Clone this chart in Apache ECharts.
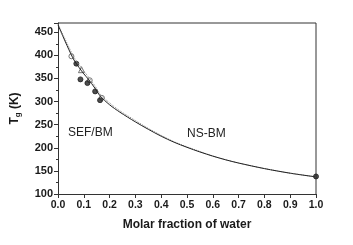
<!DOCTYPE html>
<html>
<head>
<meta charset="utf-8">
<script src="https://cdn.jsdelivr.net/npm/echarts@6/dist/echarts.min.js"></script>
<style>
  html, body { margin: 0; padding: 0; background: #fff; }
  #chart { width: 353px; height: 245px; }
</style>
</head>
<body>
<div id="chart"></div>
<script>
// values
const solidCurve = [
  [0, 466], [0.02, 440], [0.05, 403], [0.065, 387], [0.1, 360], [0.117, 349], [0.143, 329],
  [0.162, 313], [0.2, 293], [0.24, 277], [0.3, 256], [0.35, 240], [0.4, 225],
  [0.45, 212], [0.5, 201], [0.55, 191], [0.6, 182], [0.65, 174], [0.7, 167],
  [0.8, 155], [0.9, 145], [1.0, 137]
];
const dottedCurve = [
  [0, 468], [0.02, 444], [0.05, 409], [0.065, 393], [0.1, 366], [0.117, 354], [0.143, 334],
  [0.162, 317], [0.2, 297], [0.24, 280], [0.3, 259], [0.35, 242], [0.4, 227],
  [0.45, 213], [0.5, 202], [0.55, 192], [0.6, 182], [0.65, 174], [0.7, 167],
  [0.8, 155], [0.9, 145], [1.0, 137]
];
const filledPoints = [[0.071, 382], [0.087, 348], [0.114, 340], [0.144, 322], [0.163, 303], [1.0, 138]];
const openPoints = [[0.052, 398], [0.123, 346], [0.17, 308]];
const openTriangles = [[0.091, 369]];

const chart = echarts.init(document.getElementById('chart'));
const font = 'Liberation Sans, Arial, sans-serif';
chart.setOption({
  animation: false,
  backgroundColor: '#fff',
  grid: { left: 58, right: 37, top: 23, bottom: 51 },
  xAxis: {
    type: 'value', min: 0, max: 1, interval: 0.1,
    name: 'Molar fraction of water', nameLocation: 'middle', nameGap: 25,
    nameTextStyle: { fontFamily: font, fontWeight: 'bold', fontSize: 12, color: '#1a1a1a' },
    axisLine: { show: true, lineStyle: { color: '#333', width: 1 } },
    axisTick: { show: true, length: 4, lineStyle: { color: '#333' } },
    axisLabel: { fontFamily: font, fontWeight: 'bold', fontSize: 10.5, color: '#1a1a1a', margin: 6,
      formatter: v => v.toFixed(1) },
    splitLine: { show: false }
  },
  yAxis: {
    type: 'value', min: 100, max: 470, interval: 50,
    name: '{t|T}{s|g}{t| (K)}', nameLocation: 'middle', nameGap: 36, nameRotate: 90,
    nameTextStyle: { rich: {
      t: { fontFamily: font, fontWeight: 'bold', fontSize: 12, color: '#1a1a1a' },
      s: { fontFamily: font, fontWeight: 'bold', fontSize: 8, color: '#1a1a1a', verticalAlign: 'bottom', padding: [6, 0, 0, 0] }
    } },
    axisLine: { show: true, lineStyle: { color: '#333', width: 1 } },
    axisTick: { show: true, length: 4, lineStyle: { color: '#333' } },
    minorTick: { show: true, splitNumber: 2, length: 2, lineStyle: { color: '#333' } },
    axisLabel: { fontFamily: font, fontWeight: 'bold', fontSize: 11, color: '#1a1a1a', margin: 5,
      showMaxLabel: false },
    splitLine: { show: false }
  },
  graphic: [
    { type: 'line', shape: { x1: 58, y1: 23, x2: 316, y2: 23 }, style: { stroke: '#333', lineWidth: 1 } },
    { type: 'line', shape: { x1: 316, y1: 23, x2: 316, y2: 194 }, style: { stroke: '#333', lineWidth: 1 } },
    { type: 'text', left: 68, top: 127, style: { text: 'SEF/BM', font: '12px ' + font, fill: '#222' } },
    { type: 'text', left: 187, top: 128, style: { text: 'NS-BM', font: '12px ' + font, fill: '#222' } }
  ],
  series: [
    { type: 'line', data: dottedCurve, showSymbol: false, smooth: 0.3,
      lineStyle: { color: '#888', width: 1, type: 'dotted' } },
    { type: 'line', data: solidCurve, showSymbol: false, smooth: 0.3,
      lineStyle: { color: '#222', width: 1 } },
    { type: 'scatter', data: openPoints, symbol: 'circle', symbolSize: 5,
      itemStyle: { color: '#fff', borderColor: '#555', borderWidth: 1 } },
    { type: 'scatter', data: openTriangles, symbol: 'triangle', symbolSize: 6,
      itemStyle: { color: '#fff', borderColor: '#555', borderWidth: 1 } },
    { type: 'scatter', data: filledPoints, symbol: 'circle', symbolSize: 5,
      itemStyle: { color: '#222', borderColor: '#222', borderWidth: 1 } }
  ]
});
</script>
</body>
</html>
